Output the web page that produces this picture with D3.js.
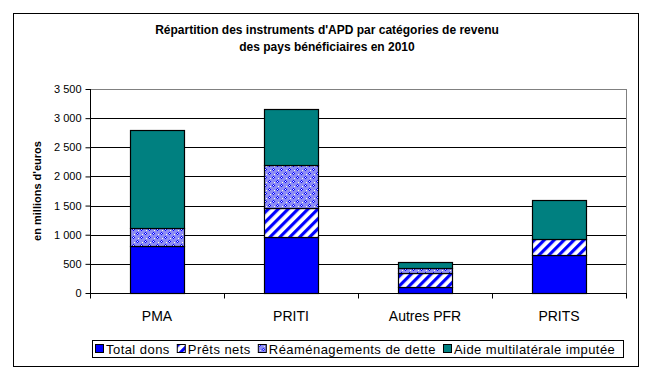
<!DOCTYPE html>
<html>
<head>
<meta charset="utf-8">
<script src="https://cdn.jsdelivr.net/npm/d3@7"></script>
<style>
  body { margin: 0; background: #fff; }
  text { font-family: "Liberation Sans", Arial, sans-serif; }
</style>
</head>
<body>
<script>
// Data
const categories = ["PMA", "PRITI", "Autres PFR", "PRITS"];
const seriesNames = ["Total dons", "Prêts nets", "Réaménagements de dette", "Aide multilatérale imputée"];
const totalDons = [805, 955, 100, 645];
const pretsNets = [5, 500, 240, 275];
const reamenagements = [300, 740, 85, 0];
const aideMulti = [1680, 960, 100, 670];
const yTicks = [0, 500, 1000, 1500, 2000, 2500, 3000, 3500];

// Dimensions
const W = 652, H = 372;
const plot = { left: 90, top: 89, right: 626, bottom: 293 };

const svg = d3.select("body")
              .append("svg")
              .attr("width", W)
              .attr("height", H);

// Patterns
const defs = svg.append("defs");

const stripes = defs.append("pattern")
    .attr("id", "stripes")
    .attr("patternUnits", "userSpaceOnUse")
    .attr("width", 7)
    .attr("height", 7)
    .attr("patternTransform", "rotate(45)");
stripes.append("rect").attr("width", 7).attr("height", 7).attr("fill", "#fff");
stripes.append("rect").attr("width", 3.2).attr("height", 7).attr("fill", "#0000ff");

const dots = defs.append("pattern")
    .attr("id", "dots")
    .attr("patternUnits", "userSpaceOnUse")
    .attr("width", 8)
    .attr("height", 8);
dots.append("rect").attr("width", 8).attr("height", 8).attr("fill", "#8c8cf5");
[[0, 0], [4, 4]].forEach(([x, y]) => {
    dots.append("rect").attr("x", x + 1).attr("y", y).attr("width", 1).attr("height", 3).attr("fill", "#0000ff");
    dots.append("rect").attr("x", x).attr("y", y + 1).attr("width", 3).attr("height", 1).attr("fill", "#0000ff");
    dots.append("rect").attr("x", x + 1).attr("y", y + 1).attr("width", 1).attr("height", 1).attr("fill", "#fff");
});
[[2, 6], [6, 2]].forEach(([x, y]) => {
    dots.append("rect").attr("x", x).attr("y", y).attr("width", 1).attr("height", 1).attr("fill", "#ffffe0");
});

const fills = ["#0000ff", "url(#stripes)", "url(#dots)", "#008080"];

// Outer frame
svg.append("rect")
   .attr("x", 13.5).attr("y", 13.5)
   .attr("width", 625).attr("height", 353)
   .attr("fill", "none")
   .attr("stroke", "#000")
   .attr("stroke-width", 1);

// Title
svg.append("text")
   .attr("x", 327).attr("y", 34)
   .attr("text-anchor", "middle")
   .style("font-size", "12px").style("font-weight", "bold")
   .text("Répartition des instruments d'APD par catégories de revenu");
svg.append("text")
   .attr("x", 327).attr("y", 51)
   .attr("text-anchor", "middle")
   .style("font-size", "12px").style("font-weight", "bold")
   .text("des pays bénéficiaires en 2010");

// Scales
const xScale = d3.scaleBand()
                 .domain(categories)
                 .range([plot.left, plot.right])
                 .padding(0);
const barW = xScale.bandwidth() / 2.5;

const yScale = d3.scaleLinear()
                 .domain([0, 3500])
                 .range([plot.bottom, plot.top]);

// Plot border (grey)
svg.append("rect")
   .attr("x", plot.left + 0.5).attr("y", plot.top + 0.5)
   .attr("width", plot.right - plot.left).attr("height", plot.bottom - plot.top)
   .attr("fill", "none")
   .attr("stroke", "#808080");

// Gridlines
svg.append("g")
   .selectAll("line")
   .data(yTicks.filter(d => d > 0 && d < 3500))
   .join("line")
   .attr("x1", plot.left).attr("x2", plot.right)
   .attr("y1", d => Math.round(yScale(d)) + 0.5)
   .attr("y2", d => Math.round(yScale(d)) + 0.5)
   .attr("stroke", "#000");

// Stacked bars
const table = categories.map((c, i) => ({
    cat: c,
    "Total dons": totalDons[i],
    "Prêts nets": pretsNets[i],
    "Réaménagements de dette": reamenagements[i],
    "Aide multilatérale imputée": aideMulti[i]
}));
const stacked = d3.stack().keys(seriesNames)(table);

svg.append("g")
   .selectAll("g")
   .data(stacked)
   .join("g")
   .attr("fill", (d, i) => fills[i])
   .selectAll("rect")
   .data(d => d.filter(p => p[1] - p[0] > 0))
   .join("rect")
   .attr("x", d => Math.round(xScale(d.data.cat) + xScale.bandwidth() / 2 - barW / 2) + 0.5)
   .attr("width", Math.round(barW))
   .attr("y", d => Math.round(yScale(d[1])) + 0.5)
   .attr("height", d => Math.round(yScale(d[0])) - Math.round(yScale(d[1])))
   .attr("stroke", "#000")
   .attr("stroke-width", 1.2);

// Y axis
const yAxis = svg.append("g")
   .attr("transform", `translate(${plot.left + 0.5},0)`)
   .call(d3.axisLeft(yScale)
           .tickValues(yTicks)
           .tickSize(5)
           .tickFormat(d => d3.format(",")(d).replace(",", " ")));
yAxis.select(".domain").attr("stroke", "#000").attr("d", `M0,${plot.top}V${plot.bottom}`);
yAxis.selectAll(".tick line").attr("stroke", "#000");
yAxis.selectAll(".tick text")
     .attr("x", -9)
     .style("font-size", "11px")
     .style("font-family", "'Liberation Sans', Arial, sans-serif")
     .attr("fill", "#000");

// X axis
const xAxis = svg.append("g")
   .attr("transform", `translate(0,${plot.bottom + 0.5})`);
xAxis.append("line")
     .attr("x1", plot.left).attr("x2", plot.right + 1)
     .attr("stroke", "#000");
xAxis.selectAll(".sep")
     .data(d3.range(categories.length + 1))
     .join("line")
     .attr("class", "sep")
     .attr("x1", i => Math.round(plot.left + i * xScale.bandwidth()) + 0.5)
     .attr("x2", i => Math.round(plot.left + i * xScale.bandwidth()) + 0.5)
     .attr("y1", 0).attr("y2", 5)
     .attr("stroke", "#000");
xAxis.selectAll(".lbl")
     .data(categories)
     .join("text")
     .attr("class", "lbl")
     .attr("x", d => xScale(d) + xScale.bandwidth() / 2)
     .attr("y", 27)
     .attr("text-anchor", "middle")
     .style("font-size", "14px")
     .text(d => d);

// Y axis title
svg.append("text")
   .attr("transform", "rotate(-90)")
   .attr("x", -(plot.top + plot.bottom) / 2)
   .attr("y", 41)
   .attr("text-anchor", "middle")
   .style("font-size", "11px").style("font-weight", "bold")
   .text("en millions d'euros");

// Legend
const legend = svg.append("g");
legend.append("rect")
      .attr("x", 92.5).attr("y", 340.5)
      .attr("width", 531).attr("height", 17)
      .attr("fill", "#fff").attr("stroke", "#000");
let lx = 95;
seriesNames.forEach((name, i) => {
    const g = legend.append("g").attr("transform", `translate(${lx},344)`);
    g.append("rect")
     .attr("x", 0.5).attr("y", 0.5)
     .attr("width", 8).attr("height", 8)
     .attr("fill", fills[i])
     .attr("stroke", "#000");
    const t = g.append("text")
     .attr("x", 11).attr("y", 10)
     .style("font-size", "13px")
     .style("letter-spacing", "0.45px")
     .text(name);
    lx += 11 + t.node().getComputedTextLength() + 7;
});
</script>
</body>
</html>
